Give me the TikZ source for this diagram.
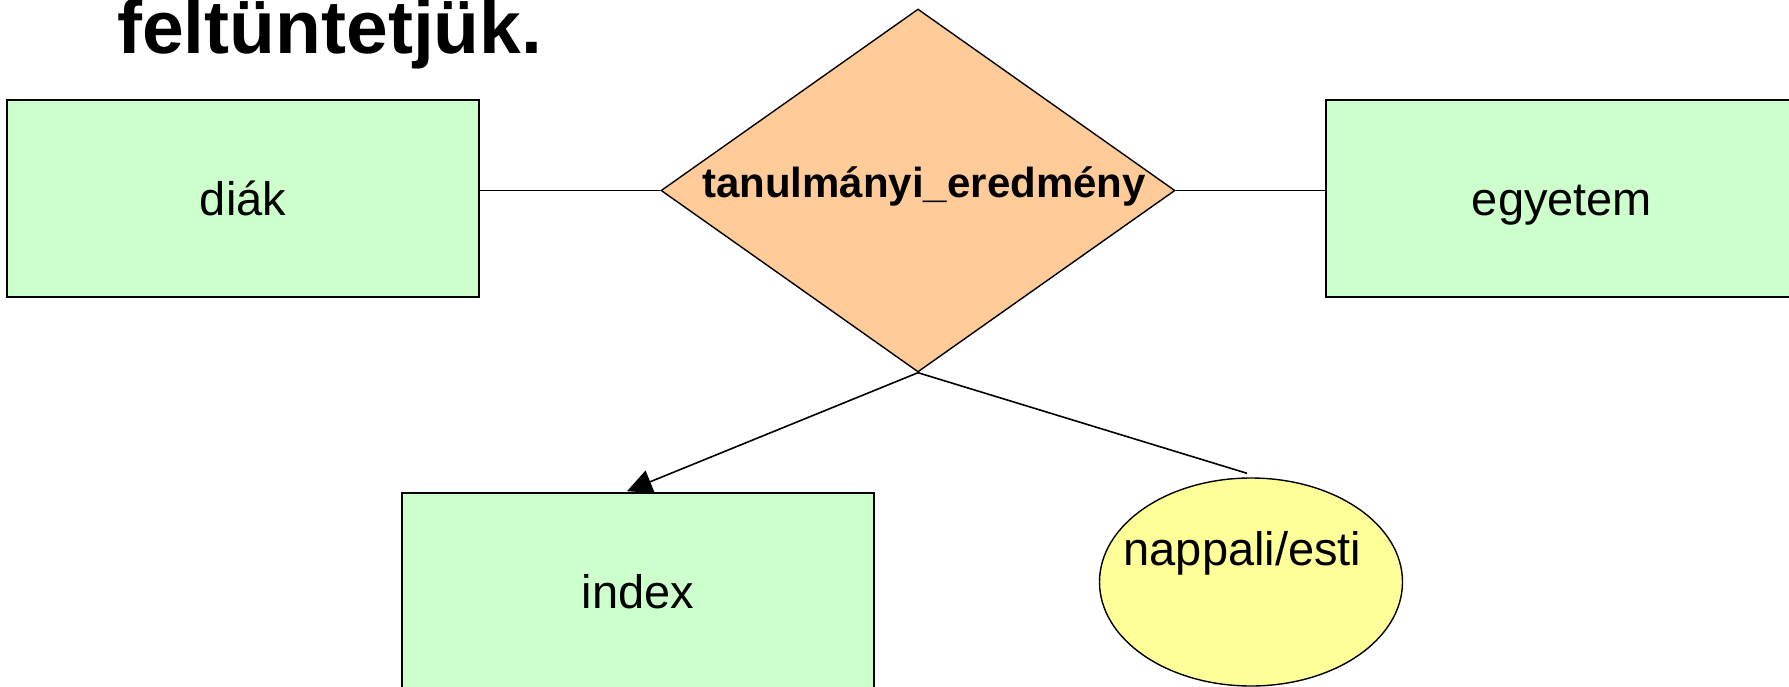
\documentclass[tikz,border=0pt]{standalone}
\usepackage{fontspec}
\setmainfont{Liberation Sans}
\usetikzlibrary{shapes.geometric,arrows.meta,calc}
\definecolor{entgreen}{HTML}{CCFFCC}
\definecolor{relorange}{HTML}{FFCC99}
\definecolor{attryellow}{HTML}{FFFF99}
\begin{document}
\begin{tikzpicture}[x=1pt,y=-1pt,
  entity/.style={draw=black, line width=1.6pt, fill=entgreen, rectangle,
    minimum width=472pt, minimum height=197pt, inner sep=0pt,
    font=\fontsize{47}{56}\selectfont, text height=33pt, text depth=0pt},
  relshape/.style={draw=black, line width=1.4pt, fill=relorange, diamond,
    minimum width=514pt, minimum height=363pt, inner sep=0pt},
  attrshape/.style={draw=black, line width=1.4pt, fill=attryellow, ellipse,
    minimum width=303pt, minimum height=208pt, inner sep=0pt},
  label47/.style={inner sep=0pt, anchor=base, font=\fontsize{47}{56}\selectfont},
  conn/.style={draw=black, line width=1.6pt}]
\useasboundingbox (0,0) rectangle (1789,686);
% title
\node[inner sep=0pt, anchor=base west, font=\fontsize{75}{90}\selectfont\bfseries] (title) at (117,53) {feltüntetjük.};
% entities
\node[entity] (diak) at (243,198.5) {diák};
\node[entity] (egyetem) at (1562,198.5) {egyetem};
\node[entity] (index) at (638,591.5) {index};
% relationship
\node[relshape] (rel) at (918,190.5) {};
\node[inner sep=0pt, anchor=base, font=\fontsize{42}{50}\selectfont\bfseries] (reltext) at (924,197) {tanulmányi\_eredmény};
% attribute
\node[attrshape] (attr) at (1251,582) {};
\node[label47] (attrtext) at (1242.5,565) {nappali/esti};
% connectors
\draw[conn] (diak.east |- rel.west) -- (rel.west);
\draw[conn] (rel.east) -- (egyetem.west |- rel.east);
\draw[conn, -{Triangle[length=25pt,width=24pt]}] (rel.south) -- ($(index.north)+(-11,-1)$);
\draw[conn] (rel.south) -- ($(attr.north)+(-4,-4)$);
\end{tikzpicture}
\end{document}
